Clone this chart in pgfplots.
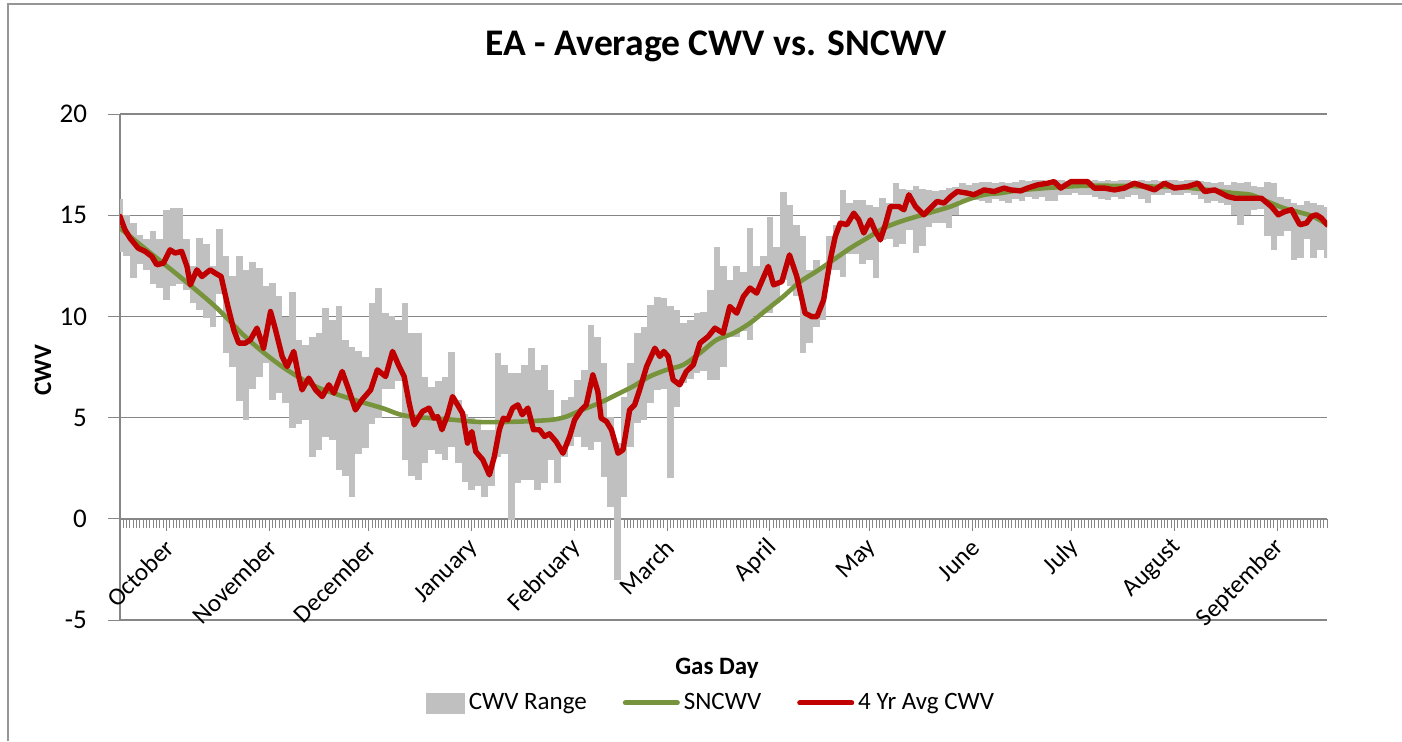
\documentclass[border=0pt]{standalone}
\usepackage{pgfplots}
\pgfplotsset{compat=1.18}
\usepackage{pgfplotstable}
\usepackage{fontspec}
\setmainfont{Carlito}
\definecolor{cwvgray}{RGB}{192,192,192}
\definecolor{sngreen}{RGB}{119,147,60}
\definecolor{avgred}{RGB}{192,0,0}
\definecolor{gridgray}{RGB}{134,134,134}
\definecolor{framegray}{RGB}{150,150,150}

\pgfplotstableread{
d lo hi
0 13.2 15.8
2 13.0 15.0
4 11.9 14.6
6 12.6 14.0
8 12.3 13.8
10 11.6 14.2
12 11.4 13.8
14 10.8 15.26
16 11.5 15.35
18 11.6 15.35
20 11.3 13.8
22 10.65 12.5
24 10.3 13.86
26 9.9 13.6
28 9.5 12.5
30 11.1 14.3
32 8.2 12.96
34 7.5 12.0
36 5.8 12.96
38 4.9 12.3
40 6.4 12.7
42 7.0 12.4
44 7.7 11.5
46 5.87 11.64
48 6.2 11.0
50 5.7 9.99
52 4.47 11.2
54 4.7 8.84
56 4.9 8.6
58 3.07 9.0
60 3.4 9.2
62 4.06 10.4
64 3.9 9.8
66 2.4 10.5
68 2.1 8.84
70 1.1 8.5
72 3.2 8.3
74 3.5 8.0
76 4.7 10.65
78 5.0 11.4
80 6.4 10.15
82 6.4 10.0
84 6.8 9.8
86 2.9 10.65
88 2.1 9.2
90 1.92 9.17
92 2.74 7.03
94 3.4 6.53
96 3.2 6.8
98 2.9 7.03
100 3.57 8.26
102 2.74 5.87
104 1.8 5.2
106 1.43 5.0
108 1.6 4.8
110 1.1 4.4
112 1.6 4.4
114 3.07 8.18
116 3.2 7.6
118 -0.06 7.2
120 1.75 7.2
122 1.9 7.6
124 1.92 8.43
126 1.43 7.36
128 1.75 7.6
130 2.9 6.37
132 1.75 4.9
134 3.07 5.87
136 3.6 6.0
138 4.06 6.86
140 3.57 7.36
142 3.4 9.58
144 3.8 9.0
146 2.08 7.7
148 0.6 5.05
150 -3.0 3.73
152 1.1 6.04
154 3.57 7.7
156 4.72 9.17
158 4.9 9.5
160 5.71 10.57
162 6.37 10.98
164 6.4 10.9
166 2.0 10.5
168 5.5 10.3
170 6.7 9.66
172 6.9 9.8
174 7.2 10.16
176 7.3 10.2
178 6.86 11.3
180 6.86 13.45
182 7.5 12.5
184 9.0 11.8
186 9.0 12.5
188 9.3 12.2
190 8.84 14.36
192 10.0 12.5
194 10.2 13.0
196 10.16 14.93
198 10.65 13.45
200 11.8 16.17
202 11.5 15.5
204 11.0 14.5
206 8.18 13.95
208 8.67 12.3
210 9.5 12.8
212 9.8 12.5
214 12.3 13.95
216 12.3 14.5
218 11.97 16.25
220 13.1 15.6
222 13.1 15.76
224 12.6 15.76
226 12.8 15.5
228 11.9 15.43
230 13.78 15.84
232 13.8 15.6
234 13.45 16.58
236 13.6 16.3
238 14.28 16.25
240 13.12 16.42
242 13.5 16.3
244 14.44 16.25
246 14.6 16.2
248 14.6 16.25
250 14.36 16.33
252 15.0 16.4
254 15.76 16.58
256 15.8 16.5
258 15.76 16.58
260 15.7 16.66
262 15.6 16.66
264 15.8 16.6
266 15.7 16.66
268 15.6 16.6
270 15.8 16.66
272 15.68 16.75
274 15.9 16.7
276 15.8 16.75
278 15.9 16.75
280 15.7 16.7
282 15.68 16.75
284 16.0 16.75
286 16.0 16.7
288 16.1 16.75
290 16.0 16.75
292 16.0 16.7
294 15.9 16.75
296 15.8 16.7
298 15.76 16.75
300 15.9 16.7
302 15.8 16.75
304 15.9 16.75
306 16.0 16.7
308 15.8 16.75
310 15.6 16.7
312 16.0 16.75
314 16.0 16.7
316 16.1 16.75
318 16.0 16.75
320 16.0 16.7
322 16.1 16.75
324 16.0 16.75
326 15.8 16.7
328 15.6 16.66
330 15.7 16.6
332 15.6 16.66
334 15.5 16.5
336 15.0 16.66
338 14.52 16.6
340 15.0 16.66
342 15.26 16.42
344 15.3 16.4
346 13.95 16.66
348 13.3 16.6
350 13.95 15.9
352 14.2 15.8
354 12.8 15.6
356 12.9 15.5
358 13.8 15.7
360 12.9 15.6
362 13.3 15.5
364 12.9 15.4
}\grayrange

\pgfplotstableread{
d v
0 14.36
8.6 13.21
18.6 11.89
28.7 10.49
38.8 8.84
48.9 7.52
59 6.54
69 5.96
79.1 5.47
86.2 5.09
100 4.90
109 4.78
120 4.80
130 4.89
134.6 5.05
139.6 5.40
144.6 5.72
149.7 6.13
154.7 6.54
159.7 7.03
164.8 7.36
169.9 7.61
174.9 8.19
179.9 8.84
185 9.17
190 9.67
195 10.33
200 10.98
205 11.70
210 12.22
215.2 12.80
220.2 13.37
225.3 13.87
230.3 14.36
235.4 14.69
240.4 14.94
245.4 15.18
250.5 15.43
255.5 15.76
260.6 16.01
265.6 16.09
270.6 16.22
280 16.35
290 16.45
300 16.45
310 16.42
320 16.38
330 16.22
336 16.09
341 16.01
346 15.68
351 15.35
356.7 15.10
359.8 14.94
364 14.55
}\sncwv

\pgfplotstableread{
d v
0 14.94
1.5 14.28
3 13.87
5.5 13.37
7.6 13.21
9.6 12.96
11.1 12.55
13.1 12.63
15.1 13.29
16.6 13.13
18.6 13.21
20.2 12.47
21.2 11.56
23.2 12.30
24.7 11.97
27.2 12.30
28.7 12.14
30.5 11.97
32.3 10.66
34.3 9.34
35.8 8.68
37.8 8.68
39.3 8.84
41.3 9.42
43.3 8.43
45.4 10.24
46.9 9.34
48.9 8.02
50.4 7.52
52.4 8.27
53.9 7.03
54.9 6.37
56.9 6.95
59 6.37
61 6.04
63 6.62
64.5 6.21
67 7.28
69 6.37
71 5.38
73 5.88
75.6 6.37
77.6 7.36
80.1 7.03
82.2 8.27
84.2 7.52
85.7 7.03
87.2 5.72
88.7 4.64
91.2 5.30
93.2 5.47
94.7 4.97
95.8 5.05
97.1 4.40
98.8 5.14
100.3 6.04
101.8 5.63
103.3 5.22
104.8 3.74
106.1 4.31
107.3 3.32
109.4 2.92
111.4 2.17
112.9 3.08
114.4 4.40
115.6 4.97
116.9 4.89
118.4 5.47
120 5.63
121.3 5.14
123 5.47
124.7 4.40
126.5 4.40
128 4.07
129.5 4.20
131.5 3.82
133.6 3.24
135.6 4.07
137.1 4.89
139.1 5.38
140.6 5.63
142.6 7.11
144.1 6.29
145.1 4.97
146.7 4.81
148.2 4.40
150.2 3.24
151.7 3.41
153.7 5.38
155.2 5.63
156.7 6.37
158.8 7.52
161.3 8.43
162.8 8.02
164 8.27
165.3 8.02
166.8 6.87
168.8 6.62
170.8 7.28
172.9 7.61
174.9 8.68
177.4 9.01
179.4 9.42
181.9 9.17
183.9 10.49
186 10.16
188 10.98
190 11.40
192 11.15
193.5 11.72
195.5 12.47
197.1 11.56
199.6 11.72
201.9 13.04
204.1 11.97
206.6 10.16
208.6 9.99
210.2 9.99
212.2 10.82
214.2 12.80
215.7 13.95
217.2 14.61
219.2 14.53
221.3 15.10
222.8 14.77
224.3 14.12
226.3 14.77
227.8 14.19
229.3 13.78
230.8 14.53
232.3 15.43
234.9 15.43
236.4 15.27
237.9 16.01
239.9 15.43
242.4 15.02
244.4 15.35
246.4 15.68
248.5 15.60
250.5 15.92
252.5 16.17
255.5 16.09
257.5 16.01
260.6 16.25
263.6 16.17
266.6 16.34
268.6 16.25
271.6 16.20
273.7 16.34
276.7 16.50
279.7 16.58
281.7 16.66
283.7 16.34
286.8 16.66
291.8 16.66
293.8 16.34
296.8 16.34
299.9 16.25
302.9 16.34
305.9 16.58
308.9 16.42
312 16.25
315 16.58
318 16.34
322 16.42
325.1 16.58
327.1 16.17
330.1 16.25
332.1 16.09
334.1 15.92
336.2 15.84
339.2 15.84
342.2 15.84
344.2 15.84
347.2 15.43
349.3 15.02
351.3 15.18
353.3 15.27
355.8 14.53
357.8 14.61
359.3 14.94
360.8 15.02
362.3 14.86
364 14.53
}\avgcwv

\begin{document}
\begin{tikzpicture}
\useasboundingbox (-60pt,-60.5pt) rectangle (641pt,310pt);
\draw[framegray, line width=0.9pt] (-56pt,-60.5pt) -- (-56pt,308pt) -- (641pt,308pt);
\begin{axis}[
  at={(0pt,0pt)}, anchor=south west,
  scale only axis, width=603.5pt, height=253pt,
  xmin=0, xmax=364, ymin=-5, ymax=20,
  axis x line=middle, axis y line=left,
  x axis line style={-, draw=gridgray, line width=0.7pt},
  y axis line style={-, draw=gridgray, line width=0.7pt},
  hide obscured x ticks=false, hide obscured y ticks=false,
  ytick={-5,0,5,10,15,20}, yticklabels={-5,0,5,10,15,20},
  ymajorgrids, major grid style={draw=gridgray, line width=0.7pt},
  xtick={14,45,75,106,137,165,196,226,257,287,318,349},
  xticklabels={October,November,December,January,February,March,April,May,June,July,August,September},
  minor xtick={0,1,...,364},
  tick align=outside, major tick length=6pt, minor tick length=4.5pt,
  tick style={draw=gridgray, line width=0.5pt},
  xticklabel style={font=\fontsize{12.5}{15}\selectfont, xshift=4pt, yshift=-4pt, rotate=45, anchor=east},
  yticklabel style={font=\fontsize{13.5}{16}\selectfont, xshift=-7pt},
  legend style={at={(0.4905,-0.164)}, anchor=center, draw=none, fill=none,
    legend columns=-1, font=\fontsize{12.5}{15}\selectfont,
    /tikz/every even column/.append style={column sep=16pt},
    inner sep=0pt},
  legend cell align=left,
]
\addplot[draw=none, mark=none, forget plot,
  error bars/.cd, y dir=plus, y explicit, error mark=none,
  error bar style={draw=cwvgray, line width=3.32pt}]
  table[x=d, y=lo, y error plus expr=\thisrow{hi}-\thisrow{lo}] {\grayrange};
\addlegendimage{legend image code/.code={\fill[cwvgray] (0pt,-5pt) rectangle (19pt,5pt);}}
\addplot[sngreen, line width=2.3pt, smooth, tension=0.5, line join=round, line cap=round, legend image code/.code={\draw[sngreen, line width=2.5pt] (0pt,0pt) -- (26pt,0pt);}] table[x=d, y=v] {\sncwv};
\addplot[avgred, line width=2.7pt, line join=round, line cap=round, legend image code/.code={\draw[avgred, line width=2.5pt] (0pt,0pt) -- (26pt,0pt);}] table[x=d, y=v] {\avgcwv};
\legend{CWV Range,SNCWV,4 Yr Avg CWV}
\end{axis}
\node[font=\bfseries\fontsize{18.8}{22}\selectfont] at (298pt,287pt) {EA - Average CWV vs. SNCWV};
\node[font=\bfseries\fontsize{12.5}{15}\selectfont, rotate=90] at (-38.5pt,125pt) {CWV};
\node[font=\bfseries\fontsize{12.5}{15}\selectfont] at (298.5pt,-24pt) {Gas Day};
\end{tikzpicture}
\end{document}
